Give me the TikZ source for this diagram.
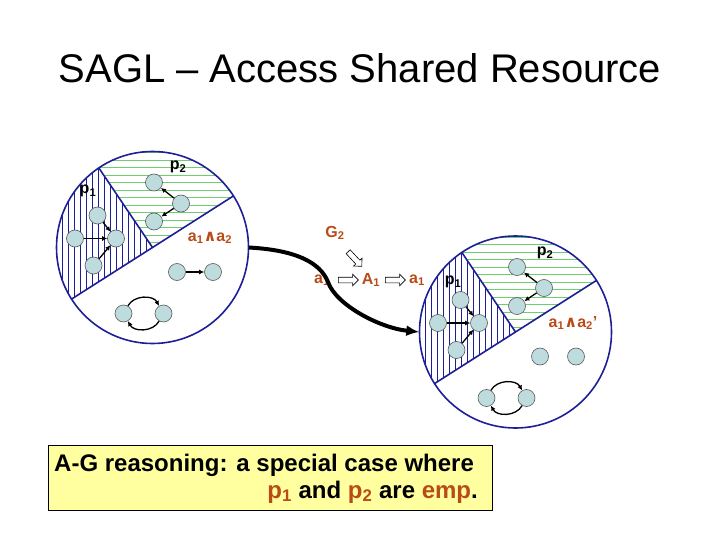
\documentclass[tikz,border=0pt]{standalone}
\usepackage{fontspec}
\setmainfont{Liberation Sans}
\newfontfamily\symf{DejaVu Sans}
\usetikzlibrary{arrows.meta,shapes.arrows}
\definecolor{navy}{RGB}{30,30,150}
\definecolor{hgreen}{RGB}{110,205,110}
\definecolor{ornge}{RGB}{185,75,25}
\definecolor{nodefill}{RGB}{190,220,222}
\definecolor{boxy}{RGB}{255,255,160}
\newcommand\andsym{{\symf\bfseries ∧}}
\newcommand\drawworld[2]{%
  \begin{scope}[shift={#2}]
    \begin{scope}
      \clip (0,0) circle (96);
      \clip (0,0) -- (-124:130) arc[start angle=-124, end angle=-212.5, radius=130] -- cycle;
      \foreach \xx in {-96,-90,...,0} \draw[navy,line width=0.8pt] (\xx,-100) -- (\xx,70);
    \end{scope}
    \begin{scope}
      \clip (0,0) circle (96);
      \clip (0,0) -- (-32.5:130) arc[start angle=-32.5, end angle=-124, radius=130] -- cycle;
      \foreach \yy in {-95,-87.5,...,0} \draw[hgreen,line width=0.9pt] (-100,\yy) -- (100,\yy);
    \end{scope}
    \draw[navy,line width=1.6pt] (-212.5:96) -- (-32.5:96);
    \draw[navy,line width=1.6pt] (0,0) -- (-124:96);
    \draw[navy,line width=1.6pt] (0,0) circle (96);
    \node[st] (#1a) at (1.5,-65) {};
    \node[st] (#1b) at (28.5,-44) {};
    \node[st] (#1c) at (1.5,-26) {};
    \node[st] (#1d) at (-55,-32) {};
    \node[st] (#1e) at (-77.5,-9) {};
    \node[st] (#1f) at (-36.5,-9) {};
    \node[st] (#1g) at (-59,18) {};
    \node[st] (#1h) at (24.5,24.5) {};
    \node[st] (#1i) at (60.5,24.5) {};
    \node[st] (#1j) at (-29,66) {};
    \node[st] (#1k) at (11,66) {};
    \draw[ed] (#1b) -- (#1a);
    \draw[ed] (#1b) -- (#1c);
    \draw[ed] (#1d) -- (#1f);
    \draw[ed] (#1e) -- (#1f);
    \draw[ed] (#1g) -- (#1f);
    \draw[ed] (#1j.60) .. controls +(6,-11) and +(-6,-11) .. (#1k.120);
    \draw[ed] (#1k.-120) .. controls +(-6,11) and +(6,11) .. (#1j.-60);
  \end{scope}}
\begin{document}
\begin{tikzpicture}[x=1pt,y=-1pt,
  st/.style={circle,draw=black!65,fill=nodefill,minimum size=17pt,inner sep=0pt,line width=0.6pt},
  ed/.style={-{Latex[length=5pt,width=5pt]},line width=1.3pt},
  lbl/.style={font=\fontsize{16}{16}\selectfont\bfseries,inner sep=0pt},
  olbl/.style={lbl,text=ornge},
  harrow/.style={single arrow,draw=black,fill=white,minimum height=20pt,inner sep=2.5pt,single arrow head extend=3pt,line width=0.6pt}
]
\useasboundingbox (0,0) rectangle (720,540);
\node (title) at (360,68) {\fontsize{40}{40}\selectfont SAGL – Access Shared Resource};

\node[circle,minimum size=192pt,inner sep=0pt] (LW) at (152.5,247.5) {};
\node[circle,minimum size=192pt,inner sep=0pt] (RW) at (515.5,332) {};
\drawworld{L}{(152.5,247.5)}
\drawworld{R}{(515.5,332)}
\draw[ed] (Lh) -- (Li);

\node[lbl] (Lp1) at (88,191) {p\textsubscript{1}};
\node[lbl] (Lp2) at (178,167) {p\textsubscript{2}};
\node[olbl] (Lan) at (210,238) {a\textsubscript{1}\andsym a\textsubscript{2}};
\node[lbl] (Rp1) at (453,282) {p\textsubscript{1}};
\node[lbl] (Rp2) at (545,253) {p\textsubscript{2}};
\node[olbl] (Ran) at (573,323) {a\textsubscript{1}\andsym a\textsubscript{2}'};

\node[olbl] (G2) at (335,233) {G\textsubscript{2}};
\node[harrow,rotate=-47] (hg) at (354,258) {};
\node[olbl] (a1l) at (322,280) {a\textsubscript{1}};
\node[harrow] (h1) at (347,280) {};
\node[olbl] (A1) at (371,280) {A\textsubscript{1}};
\node[harrow] (h2) at (394,280) {};
\node[olbl] (a1r) at (417,280) {a\textsubscript{1}};

\draw[line width=4pt,-{Latex[length=13pt,width=11pt]}] (LW.east) .. controls (295,250) and (320,262) .. (328,282) .. controls (336,305) and (380,328) .. (RW.west);

\node[draw=black,fill=boxy,line width=0.8pt,minimum width=444pt,minimum height=65pt,inner sep=0pt] (box) at (270,477.5) {};
\node[anchor=west,font=\fontsize{24}{24}\selectfont\bfseries,inner sep=0pt] (t1) at (54,465) {A-G reasoning: a special case where};
\node[anchor=east,font=\fontsize{24}{24}\selectfont\bfseries,inner sep=0pt] (t2) at (478,492) {\textcolor{ornge}{p\textsubscript{1}} and \textcolor{ornge}{p\textsubscript{2}} are \textcolor{ornge}{emp}.};
\end{tikzpicture}
\end{document}
